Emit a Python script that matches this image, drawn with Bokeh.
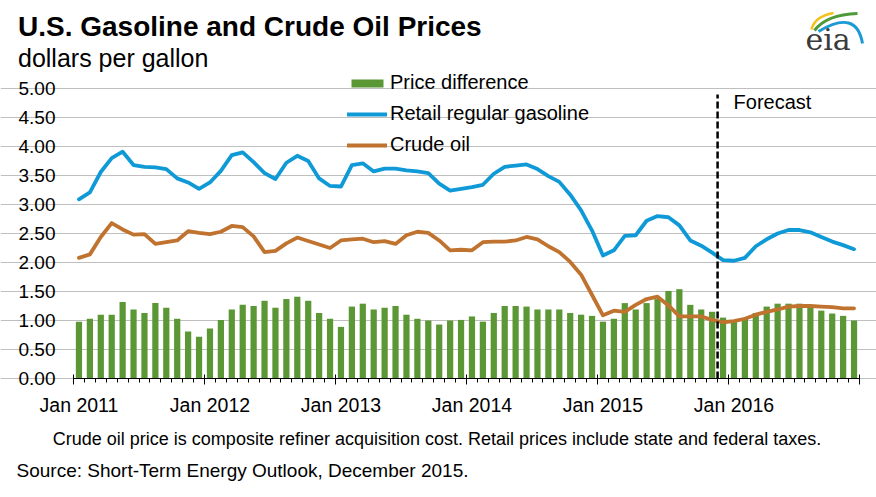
from bokeh.plotting import figure
from bokeh.models import (Range1d, FixedTicker, LinearAxis, NumeralTickFormatter,
                          Legend, LegendItem, Label, Grid)
from bokeh.embed import file_html
from bokeh.resources import INLINE

# ---------------- data ----------------
years = ["2011", "2012", "2013", "2014", "2015", "2016"]
year_labels = ["Jan 2011", "Jan 2012", "Jan 2013", "Jan 2014", "Jan 2015", "Jan 2016"]
month_names = ["Jan", "Feb", "Mar", "Apr", "May", "Jun",
               "Jul", "Aug", "Sep", "Oct", "Nov", "Dec"]
months = [f"{m} {y}" for y in years for m in month_names]

retail = [3.09, 3.21, 3.56, 3.80, 3.91, 3.68, 3.65, 3.64, 3.61, 3.45, 3.38, 3.27,
          3.38, 3.58, 3.85, 3.90, 3.73, 3.54, 3.44, 3.72, 3.84, 3.75, 3.45, 3.32,
          3.31, 3.68, 3.71, 3.57, 3.62, 3.62, 3.59, 3.57, 3.54, 3.36, 3.24, 3.27,
          3.30, 3.34, 3.53, 3.65, 3.67, 3.69, 3.61, 3.49, 3.39, 3.17, 2.90, 2.55,
          2.12, 2.21, 2.46, 2.47, 2.72, 2.80, 2.78, 2.64, 2.38, 2.29, 2.17, 2.04,
          2.03, 2.08, 2.28, 2.40, 2.50, 2.56, 2.56, 2.52, 2.44, 2.36, 2.30, 2.23]

crude = [2.08, 2.14, 2.44, 2.68, 2.57, 2.48, 2.49, 2.32, 2.35, 2.38, 2.54, 2.51,
         2.49, 2.53, 2.63, 2.61, 2.45, 2.18, 2.20, 2.33, 2.43, 2.37, 2.31, 2.25,
         2.38, 2.40, 2.41, 2.35, 2.37, 2.32, 2.47, 2.53, 2.51, 2.38, 2.21, 2.22,
         2.21, 2.35, 2.36, 2.36, 2.38, 2.44, 2.40, 2.28, 2.18, 2.01, 1.79, 1.44,
         1.09, 1.17, 1.15, 1.27, 1.37, 1.41, 1.26, 1.07, 1.07, 1.07, 1.01, 0.97,
         0.99, 1.03, 1.10, 1.15, 1.19, 1.24, 1.25, 1.25, 1.24, 1.23, 1.21, 1.21]

difference = [0.98, 1.03, 1.10, 1.10, 1.32, 1.19, 1.13, 1.30, 1.22, 1.03, 0.81, 0.72,
              0.86, 1.01, 1.19, 1.27, 1.25, 1.34, 1.22, 1.37, 1.41, 1.34, 1.13, 1.03,
              0.89, 1.24, 1.29, 1.19, 1.22, 1.25, 1.10, 1.03, 1.00, 0.93, 1.00, 1.01,
              1.07, 0.98, 1.13, 1.25, 1.25, 1.24, 1.19, 1.19, 1.19, 1.13, 1.10, 1.08,
              0.98, 1.03, 1.30, 1.19, 1.30, 1.37, 1.51, 1.54, 1.27, 1.19, 1.15, 1.05,
              1.00, 1.03, 1.13, 1.24, 1.29, 1.29, 1.29, 1.25, 1.17, 1.12, 1.08, 1.00]

y_ticks = [0.0, 0.5, 1.0, 1.5, 2.0, 2.5, 3.0, 3.5, 4.0, 4.5, 5.0]
forecast_start = "Dec 2015"

title_text = "U.S. Gasoline and Crude Oil Prices"
subtitle_text = "dollars per gallon"
note_text = "Crude oil price is composite refiner acquisition cost.  Retail prices include state and federal taxes."
source_text = "Source: Short-Term Energy Outlook, December 2015."

# ---------------- layout / styling ----------------
FONT = "Liberation Sans"
GREEN = "#5B9735"
BLUE = "#0F9AD7"
ORANGE = "#C0722F"

W, H = 876, 497                 # canvas (the frame covers the whole canvas)
PLOT_L, PLOT_R = 73, 859        # pixel extent of the month axis
PLOT_Y0 = 378                   # pixel row of the 0.00 line
PX_PER_UNIT = 58.0              # vertical pixels per dollar

n = len(months)
x = list(range(n))
fx = months.index(forecast_start) - 0.5
PX_PER_MONTH = (PLOT_R - PLOT_L) / n

def sx(px):
    return (px - PLOT_L) / PX_PER_MONTH - 0.5

def sy(py):
    return (PLOT_Y0 - py) / PX_PER_UNIT

p = figure(width=W, height=H, x_range=Range1d(sx(0), sx(W)), y_range=Range1d(sy(H), sy(0)),
           x_axis_location=None, y_axis_location=None, toolbar_location=None,
           output_backend="svg", min_border=0)
p.min_border_left = 0
p.min_border_right = 0
p.min_border_top = 0
p.min_border_bottom = 0
p.outline_line_color = None
p.grid.visible = False

# y axis (fixed at the left edge of the month axis)
yax = LinearAxis(fixed_location=-0.5, ticker=FixedTicker(ticks=y_ticks),
                 formatter=NumeralTickFormatter(format="0.00"))
yax.axis_line_color = None
yax.major_tick_line_color = None
yax.minor_tick_line_color = None
yax.major_tick_out = 0
yax.major_tick_in = 0
yax.major_label_standoff = 18
yax.major_label_text_font = FONT
yax.major_label_text_font_size = "19px"
yax.major_label_text_color = "#000000"
p.add_layout(yax, "left")

# horizontal grid lines across the plot area only
ygrid = Grid(dimension=1, ticker=FixedTicker(ticks=y_ticks), bounds=(-0.5, n - 0.5),
             grid_line_color="#BFBFBF", grid_line_width=1)
p.add_layout(ygrid)

# x axis with month / year ticks
bounds = [i - 0.5 for i in range(n + 1)]
year_bounds = [b for i, b in enumerate(bounds) if i % 12 == 0]
axA = LinearAxis(fixed_location=0, bounds=(-0.5, n - 0.5),
                 ticker=FixedTicker(ticks=year_bounds, minor_ticks=bounds))
axA.axis_line_color = "#000000"
axA.axis_line_width = 1
axA.major_tick_line_color = "#000000"
axA.major_tick_in = 4
axA.major_tick_out = 6
axA.minor_tick_line_color = "#000000"
axA.minor_tick_in = 0
axA.minor_tick_out = 4
axA.major_label_text_font_size = "0px"
axA.major_label_standoff = 0
axA.major_label_overrides = {b: "" for b in year_bounds}
p.add_layout(axA, "below")

# x axis carrying the year labels, centred on January
label_pos = [months.index(lbl) for lbl in year_labels]
axB = LinearAxis(fixed_location=0, ticker=FixedTicker(ticks=label_pos, minor_ticks=[]))
axB.axis_line_color = None
axB.major_tick_line_color = None
axB.minor_tick_line_color = None
axB.major_tick_out = 0
axB.major_tick_in = 0
axB.major_label_standoff = 15
axB.major_label_overrides = {pos: lbl for pos, lbl in zip(label_pos, year_labels)}
axB.major_label_text_font = FONT
axB.major_label_text_font_size = "19.5px"
axB.major_label_text_color = "#000000"
p.add_layout(axB, "below")

bars = p.vbar(x=x, top=difference, width=0.57, fill_color=GREEN, line_color=None)
l_retail = p.line(x, retail, line_color=BLUE, line_width=3.8, line_join="round", line_cap="round")
l_crude = p.line(x, crude, line_color=ORANGE, line_width=3.8, line_join="round", line_cap="round")

p.segment(x0=[fx], y0=[0], x1=[fx], y1=[sy(94)], line_color="#000000",
          line_width=2.5, line_dash="7 3")
p.add_layout(Label(x=fx, y=sy(101), x_offset=16, text="Forecast", text_baseline="middle",
                   text_font=FONT, text_font_size="20px", text_color="#000000"))

legend = Legend(items=[LegendItem(label="Price difference", renderers=[bars]),
                       LegendItem(label="Retail regular gasoline", renderers=[l_retail]),
                       LegendItem(label="Crude oil", renderers=[l_crude])],
                location=(347, 341), orientation="vertical",
                glyph_width=40, glyph_height=10, label_height=23, label_standoff=3, spacing=8,
                padding=0, margin=0, border_line_color=None, background_fill_alpha=0,
                label_text_font=FONT, label_text_font_size="20px",
                label_text_color="#000000")
p.add_layout(legend)

# ---------------- titles and notes ----------------
p.add_layout(Label(x=sx(17.5), y=sy(26), text=title_text, text_baseline="middle",
                   text_font=FONT, text_font_style="bold", text_font_size="28px",
                   text_color="#000000"))
p.add_layout(Label(x=sx(17.5), y=sy(57), text=subtitle_text, text_baseline="middle",
                   text_font=FONT, text_font_size="25px", text_color="#000000"))
p.add_layout(Label(x=sx(439), y=sy(438), text=note_text, text_baseline="middle",
                   text_align="center", text_font=FONT, text_font_size="18px",
                   text_color="#000000"))
p.add_layout(Label(x=sx(16), y=sy(470), text=source_text, text_baseline="middle",
                   text_align="left", text_font=FONT, text_font_size="19px",
                   text_color="#000000"))

# ---------------- eia logo ----------------
p.quadratic(x0=[sx(811)], y0=[sy(29)], x1=[sx(833)], y1=[sy(12.5)], cx=[sx(814)], cy=[sy(16)],
            line_color="#F2C21B", line_width=2.5)
p.quadratic(x0=[sx(814)], y0=[sy(30)], x1=[sx(857)], y1=[sy(13)], cx=[sx(826)], cy=[sy(14)],
            line_color="#4E9A3A", line_width=3)
p.quadratic(x0=[sx(818)], y0=[sy(31)], x1=[sx(862)], y1=[sy(43)], cx=[sx(856)], cy=[sy(8)],
            line_color="#1C9AD6", line_width=3)
p.add_layout(Label(x=sx(805), y=sy(39), text="eia", text_baseline="middle",
                   text_font="DejaVu Serif", text_font_size="30px", text_color="#3A3A3A"))

open("out.html", "w").write(file_html(p, INLINE))
